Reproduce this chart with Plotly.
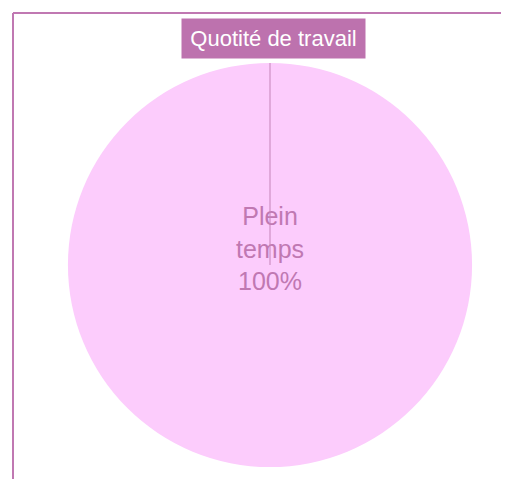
import plotly.graph_objects as go

# Data
labels = ["Plein temps"]
values = [100]
title_text = "Quotité de travail"

# the page body adds an 8px margin, so the figure is sized/positioned to compensate
OFF = 8
W, H = 509 - OFF, 479 - OFF
FONT = "Liberation Sans, Arial, sans-serif"
PURPLE = "rgb(189,114,174)"
PINK = "rgb(252,204,252)"
FRAME = "rgb(192,120,178)"

# pie placement (page pixels -> paper)
px_x0, px_x1 = 68 - OFF, 472 - OFF
px_y0, px_y1 = 63 - OFF, 467 - OFF
dom_x = [px_x0 / W, px_x1 / W]
dom_y = [1 - px_y1 / H, 1 - px_y0 / H]
cx = (dom_x[0] + dom_x[1]) / 2
cy = (dom_y[0] + dom_y[1]) / 2

display = [l.replace(" ", "<br>") for l in labels]

fig = go.Figure(go.Pie(
    labels=labels,
    values=values,
    text=display,
    # trailing blank line lifts the label block slightly above the centre
    texttemplate="%{text}<br>%{percent:.0%}<br> ",
    textposition="inside",
    insidetextorientation="horizontal",
    textfont=dict(family=FONT, size=25, color="rgb(192,120,178)"),
    marker=dict(colors=[PINK], line=dict(width=0)),
    sort=False,
    direction="clockwise",
    rotation=0,
    domain=dict(x=dom_x, y=dom_y),
    showlegend=False,
    hoverinfo="label+percent",
))

fx = (13 - OFF) / W
fy = 1 - (13 - OFF) / H

fig.update_layout(
    width=W, height=H,
    margin=dict(l=0, r=0, t=0, b=0),
    paper_bgcolor="white",
    plot_bgcolor="white",
    shapes=[
        # frame: top and left edges
        dict(type="line", xref="paper", yref="paper",
             x0=fx, x1=1, y0=fy, y1=fy,
             line=dict(color=FRAME, width=2)),
        dict(type="line", xref="paper", yref="paper",
             x0=fx, x1=fx, y0=0, y1=fy,
             line=dict(color=FRAME, width=2)),
        # slice boundary from top to centre
        dict(type="line", xref="paper", yref="paper",
             x0=cx, x1=cx, y0=cy, y1=dom_y[1],
             line=dict(color="rgb(196,132,184)", width=1), layer="above"),
    ],
    annotations=[
        dict(text=title_text, xref="paper", yref="paper",
             x=(273.5 - OFF) / W, y=1 - (38.5 - OFF) / H,
             xanchor="center", yanchor="middle",
             showarrow=False, bgcolor=PURPLE, borderpad=5,
             width=173, height=29,
             font=dict(family=FONT, size=22, color="white")),
    ],
)

fig.write_html("out.html")
